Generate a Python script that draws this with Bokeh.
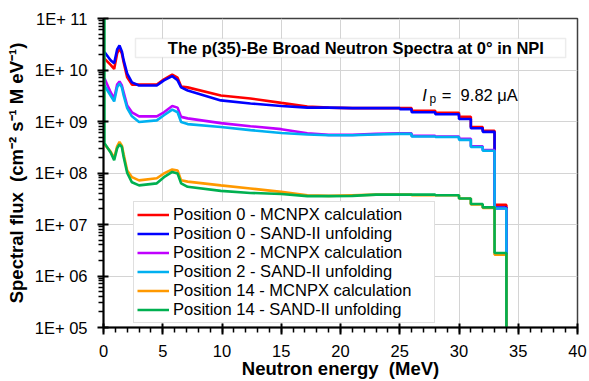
from bokeh.plotting import figure
from bokeh.models import (FixedTicker, SingleIntervalTicker, CustomJSTickFormatter,
                          Legend, LegendItem, BoxAnnotation, Label)
from bokeh.embed import file_html
from bokeh.resources import INLINE

# ---------------- data ----------------
e_smooth = [0.08, 0.6, 0.9, 1.15, 1.35, 1.55, 1.7, 2.0, 2.4, 3.0, 4.5, 5.1, 5.8, 6.25, 6.55,
            7.1, 9.9, 12.4, 15.0, 17.2, 19.0, 21.0, 23.0, 25.0]
bin_edges = [25, 26, 28, 30, 31, 32, 33, 34]
cutoff_flux = 1e3

pos0_mcnpx_smooth = [1.66e10, 1.26e10, 1.05e10, 2.1e10, 2.63e10, 2.1e10, 1.41e10, 7.2e9, 5.2e9,
                     5.2e9, 5.2e9, 6.6e9, 8.1e9, 7.1e9, 4.8e9, 4.6e9, 3.2e9, 2.8e9, 2.3e9,
                     1.95e9, 1.86e9, 1.82e9, 1.82e9, 1.82e9]
pos0_mcnpx_bins = [1.82e9, 1.62e9, 1.48e9, 1.23e9, 7.8e8, 6.6e8, 2.4e7]

pos0_sand_smooth = [2.24e10, 1.55e10, 1.35e10, 2.5e10, 3.0e10, 2.3e10, 1.55e10, 8.5e9, 5.75e9,
                    5.0e9, 5.0e9, 6.3e9, 7.6e9, 6.3e9, 4.6e9, 4.0e9, 2.57e9, 2.24e9, 2.0e9,
                    1.86e9, 1.86e9, 1.82e9, 1.82e9, 1.82e9]
pos0_sand_bins = [1.74e9, 1.51e9, 1.38e9, 1.12e9, 7.4e8, 6.3e8, 2.14e7]

pos2_mcnpx_smooth = [6.9e9, 3.7e9, 2.8e9, 5.2e9, 6.0e9, 5.0e9, 3.7e9, 2.04e9, 1.51e9, 1.26e9,
                     1.26e9, 1.51e9, 2.0e9, 1.86e9, 1.23e9, 1.15e9, 9.3e8, 8.1e8, 7.1e8,
                     5.9e8, 5.5e8, 5.5e8, 5.75e8, 5.9e8]
pos2_mcnpx_bins = [5.9e8, 5.25e8, 5.1e8, 4.6e8, 3.3e8, 2.8e8, 2.04e7]

pos2_sand_smooth = [5.0e9, 3.2e9, 2.45e9, 4.6e9, 5.5e9, 4.6e9, 3.2e9, 1.82e9, 1.26e9, 9.8e8,
                    1.05e9, 1.32e9, 1.7e9, 1.51e9, 9.8e8, 8.9e8, 7.8e8, 6.8e8, 6.0e8,
                    5.6e8, 5.4e8, 5.4e8, 5.6e8, 5.75e8]
pos2_sand_bins = [5.75e8, 5.1e8, 5.0e8, 4.4e8, 3.2e8, 2.7e8, 2.04e7]

pos14_mcnpx_smooth = [3.6e8, 2.6e8, 1.95e8, 3.3e8, 4.0e8, 3.4e8, 2.3e8, 1.12e8, 8.3e7, 7.2e7,
                      7.9e7, 9.8e7, 1.17e8, 1.12e8, 7.2e7, 6.8e7, 5.75e7, 5.0e7, 4.3e7,
                      3.7e7, 3.6e7, 3.7e7, 3.8e7, 3.8e7]
pos14_mcnpx_bins = [3.8e7, 3.7e7, 3.7e7, 3.2e7, 2.45e7, 2.1e7, 2.6e6]

pos14_sand_first = 1e12
pos14_sand_smooth = [3.8e8, 2.5e8, 1.78e8, 3.0e8, 3.6e8, 3.2e8, 2.04e8, 1.0e8, 6.6e7, 5.75e7,
                     6.3e7, 8.3e7, 1.05e8, 9.8e7, 6.3e7, 5.4e7, 4.5e7, 4.1e7, 3.9e7,
                     3.55e7, 3.55e7, 3.6e7, 3.8e7, 3.8e7]
pos14_sand_bins = [3.8e7, 3.8e7, 3.7e7, 3.2e7, 2.5e7, 2.15e7, 2.8e6]

series_labels = ["Position 0 - MCNPX calculation", "Position 0 - SAND-II unfolding",
                 "Position 2 - MCNPX calculation", "Position 2 - SAND-II unfolding",
                 "Position 14 - MCNPX calculation", "Position 14 - SAND-II unfolding"]
series_colors = ["#ff0000", "#0000ff", "#c000ff", "#00b0f0", "#ff9900", "#00b050"]

y_ticks = [1e5, 1e6, 1e7, 1e8, 1e9, 1e10, 1e11]


def build(smooth, bins, first=None):
    xs, ys = [], []
    if first is not None:
        xs.append(e_smooth[0]); ys.append(first)
    xs += list(e_smooth); ys += list(smooth)
    for i, v in enumerate(bins):
        xs += [bin_edges[i], bin_edges[i + 1]]
        ys += [v, v]
    xs.append(bin_edges[-1]); ys.append(cutoff_flux)
    return xs, ys


series = [build(pos0_mcnpx_smooth, pos0_mcnpx_bins),
          build(pos0_sand_smooth, pos0_sand_bins),
          build(pos2_mcnpx_smooth, pos2_mcnpx_bins),
          build(pos2_sand_smooth, pos2_sand_bins),
          build(pos14_mcnpx_smooth, pos14_mcnpx_bins),
          build(pos14_sand_smooth, pos14_sand_bins, first=pos14_sand_first)]

FONT = "Liberation Sans"
NB = "\u00a0"

p = figure(width=589, height=381, x_range=(0, 40), y_range=(1e5, 1e11),
           y_axis_type="log", output_backend="svg", toolbar_location=None,
           min_border_left=103, min_border_right=12, min_border_top=18,
           min_border_bottom=54)
p.outline_line_color = "#404040"
p.outline_line_width = 1.5
p.background_fill_color = "white"
p.border_fill_color = "white"

# grid
p.xgrid.grid_line_color = "#d4d4d4"
p.ygrid.grid_line_color = "#d4d4d4"
p.xgrid.grid_line_width = 1
p.ygrid.grid_line_width = 1

# x axis
p.xaxis.ticker = SingleIntervalTicker(interval=5, num_minor_ticks=5)
p.xaxis.axis_label = "Neutron energy" + NB + NB + "(MeV)"
# y axis
minor = []
for d in range(5, 11):
    for m in range(2, 10):
        minor.append(m * 10.0 ** d)
p.yaxis.ticker = FixedTicker(ticks=y_ticks, minor_ticks=minor)
p.yaxis.formatter = CustomJSTickFormatter(code="""
    const e = Math.round(Math.log10(tick));
    return "1E+\u00a0" + String(e).padStart(2, "0");
""")
p.yaxis.axis_label = "Spectral flux" + NB + NB + "(cm\u207b\u00b2 s\u207b\u00b9 M eV\u207b\u00b9)"

for ax in (p.xaxis[0], p.yaxis[0]):
    ax.axis_line_color = "black"
    ax.axis_line_width = 2
    ax.major_tick_line_color = "black"
    ax.major_tick_line_width = 2
    ax.minor_tick_line_color = "black"
    ax.minor_tick_line_width = 1.5
    ax.major_label_text_font = FONT
    ax.major_label_text_font_size = "16.5px"
    ax.major_label_text_color = "black"
    ax.axis_label_text_font = FONT
    ax.axis_label_text_font_style = "bold"
    ax.axis_label_text_font_size = "18.5px"
    ax.axis_label_text_color = "black"

p.xaxis.major_tick_in = 4
p.xaxis.major_tick_out = 7
p.xaxis.minor_tick_in = 0
p.xaxis.minor_tick_out = 5
p.xaxis.major_label_standoff = 10
p.xaxis.axis_label_standoff = -2

p.yaxis.major_tick_in = 5
p.yaxis.major_tick_out = 6
p.yaxis.minor_tick_in = 0
p.yaxis.minor_tick_out = 5
p.yaxis.major_label_standoff = 10
p.yaxis.axis_label_standoff = 5

# title box
p.add_layout(BoxAnnotation(left=2.7, right=39.0, bottom=10 ** 10.243, top=10 ** 10.612,
                           fill_color="white", fill_alpha=1.0,
                           line_color="#bfbfbf", line_width=1.5))
p.add_layout(Label(x=21.3, y=10 ** 10.427, text="The p(35)-Be Broad Neutron Spectra at 0\u00b0 in NPI",
                   text_font=FONT, text_font_style="bold", text_font_size="16.5px",
                   text_align="center", text_baseline="middle", text_color="black"))

# Ip annotation
p.add_layout(Label(x=26.9, y=10 ** 9.505, text="I", text_font=FONT, text_font_style="italic",
                   text_font_size="16.5px", text_baseline="alphabetic", text_color="black"))
p.add_layout(Label(x=27.5, y=10 ** 9.43, text="p", text_font=FONT,
                   text_font_size="12px", text_baseline="alphabetic", text_color="black"))
p.add_layout(Label(x=28.55, y=10 ** 9.505, text="=" + NB + NB + "9.82 \u03bcA", text_font=FONT,
                   text_font_size="16.5px", text_baseline="alphabetic", text_color="black"))

renderers = []
for (xs, ys), c in zip(series, series_colors):
    r = p.line(xs, ys, line_color=c, line_width=2.6)
    renderers.append(r)

legend = Legend(items=[LegendItem(label=l, renderers=[r]) for l, r in zip(series_labels, renderers)],
                location=(30, 4), padding=3, spacing=0, margin=0,
                label_height=19, glyph_height=19, glyph_width=32, label_standoff=4,
                label_width=258,
                label_text_font=FONT, label_text_font_size="16.5px",
                label_text_color="black",
                border_line_color="#bfbfbf", border_line_width=1.5,
                background_fill_color="white", background_fill_alpha=1.0)
p.add_layout(legend, "center")

open("out.html", "w").write(file_html(p, INLINE))
